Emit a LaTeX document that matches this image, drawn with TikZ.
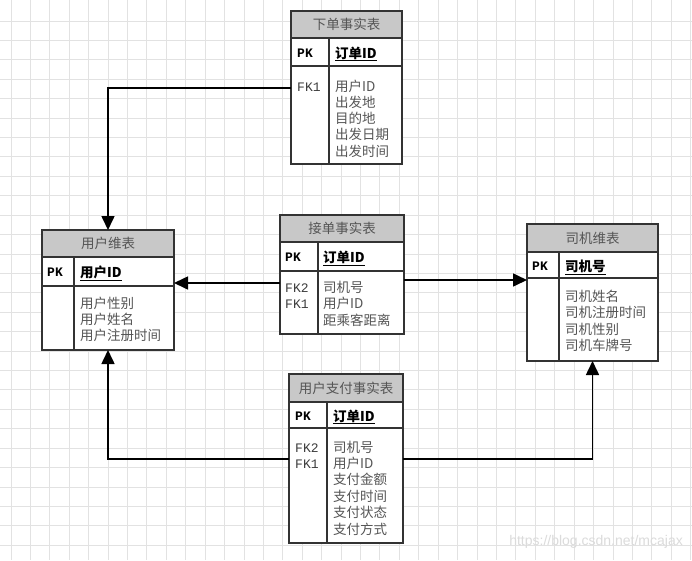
\documentclass[tikz,border=0pt]{standalone}
\usepackage{fontspec}
\newfontfamily\cjk{Noto Sans CJK SC}
\newfontfamily\mono{Liberation Mono}
\newfontfamily\wmfont{Liberation Sans}
\usepackage{tikz}
\usetikzlibrary{calc,positioning,arrows.meta}
\definecolor{headgray}{HTML}{C8C8C8}
\definecolor{linegray}{HTML}{333333}
\definecolor{txtgray}{HTML}{555555}
\definecolor{gridgray}{HTML}{E2E2E2}

\begin{document}
\begin{tikzpicture}[x=1pt,y=-1pt]

\tikzstyle{gridline}=[draw=gridgray,line width=1pt]
\tikzstyle{head}=[draw=linegray,fill=headgray,line width=1.3pt,inner sep=0pt,outer sep=0pt,anchor=north west,text=txtgray,font=\cjk\fontsize{13.5}{16}\selectfont]
\tikzstyle{row}=[draw=linegray,fill=white,line width=1.3pt,inner sep=0pt,outer sep=0pt,anchor=north west]
\tikzstyle{tblline}=[draw=linegray,line width=1.3pt]
\tikzstyle{keytxt}=[inner sep=0pt,anchor=base west,font=\mono\bfseries\fontsize{13}{16}\selectfont]
\tikzstyle{pktxt}=[inner sep=0pt,anchor=base west,font=\cjk\bfseries\fontsize{13.5}{16}\selectfont]
\tikzstyle{fktxt}=[inner sep=0pt,anchor=base west,text=txtgray!70!black,font=\mono\fontsize{13}{16}\selectfont]
\tikzstyle{attr}=[inner sep=0pt,anchor=base west,text=txtgray,font=\cjk\fontsize{13.5}{16}\selectfont]
\tikzstyle{fk}=[line width=1.6pt,-{Triangle[width=13pt,length=14pt]}]

    %background and grid
    \fill[white] (0,0) rectangle (692,560);
    \useasboundingbox (0,0) rectangle (692,560);
    \foreach \gx in {0,...,35} \draw[gridline] ({11+19.42*\gx},0) -- ({11+19.42*\gx},560);
    \foreach \gy in {0,...,27} \draw[gridline] (0,{21+19.42*\gy}) -- (692,{21+19.42*\gy});

    %order fact table
    \node (order_head) [head,minimum width=111,minimum height=27] at (291,11) {下单事实表};
    \node (order_pk) [row,minimum width=111,minimum height=28] at (order_head.south west) {};
    \node (order_body) [row,minimum width=111,minimum height=98] at (order_pk.south west) {};
    \draw [tblline] ($(order_pk.north west)+(38,0)$) -- ($(order_body.south west)+(38,0)$);
    \node (order_pk_k) [keytxt] at ($(order_pk.west)+(6,5)$) {PK};
    \node (order_pk_n) [pktxt] at ($(order_pk.west)+(44,6)$) {\underline{订单ID}};
    \node (order_fk) [fktxt] at ($(order_body.north west)+(6,25)$) {FK1};
    \foreach \t [count=\i] in {用户ID,出发地,目的地,出发日期,出发时间}
      \node (order_a\i) [attr] at ($(order_body.north west)+(44,{25+16.3*(\i-1)})$) {\t};

    %user dimension table
    \node (user_head) [head,minimum width=132,minimum height=27] at (42,230) {用户维表};
    \node (user_pk) [row,minimum width=132,minimum height=29] at (user_head.south west) {};
    \node (user_body) [row,minimum width=132,minimum height=64] at (user_pk.south west) {};
    \draw [tblline] ($(user_pk.north west)+(32,0)$) -- ($(user_body.south west)+(32,0)$);
    \node (user_pk_k) [keytxt] at ($(user_pk.west)+(5,5)$) {PK};
    \node (user_pk_n) [pktxt] at ($(user_pk.west)+(38,6)$) {\underline{用户ID}};
    \foreach \t [count=\i] in {用户性别,用户姓名,用户注册时间}
      \node (user_a\i) [attr] at ($(user_body.north west)+(38,{22+16*(\i-1)})$) {\t};

    %accept fact table
    \node (accept_head) [head,minimum width=124,minimum height=27] at (280,215) {接单事实表};
    \node (accept_pk) [row,minimum width=124,minimum height=29] at (accept_head.south west) {};
    \node (accept_body) [row,minimum width=124,minimum height=63] at (accept_pk.south west) {};
    \draw [tblline] ($(accept_pk.north west)+(38,0)$) -- ($(accept_body.south west)+(38,0)$);
    \node (accept_pk_k) [keytxt] at ($(accept_pk.west)+(5,5)$) {PK};
    \node (accept_pk_n) [pktxt] at ($(accept_pk.west)+(43,6)$) {\underline{订单ID}};
    \foreach \t [count=\i] in {FK2,FK1}
      \node (accept_fk\i) [fktxt] at ($(accept_body.north west)+(5,{21+16.5*(\i-1)})$) {\t};
    \foreach \t [count=\i] in {司机号,用户ID,距乘客距离}
      \node (accept_a\i) [attr] at ($(accept_body.north west)+(43,{21+16.5*(\i-1)})$) {\t};

    %driver dimension table
    \node (driver_head) [head,minimum width=131,minimum height=28] at (527,224) {司机维表};
    \node (driver_pk) [row,minimum width=131,minimum height=26] at (driver_head.south west) {};
    \node (driver_body) [row,minimum width=131,minimum height=83] at (driver_pk.south west) {};
    \draw [tblline] ($(driver_pk.north west)+(32,0)$) -- ($(driver_body.south west)+(32,0)$);
    \node (driver_pk_k) [keytxt] at ($(driver_pk.west)+(5,5)$) {PK};
    \node (driver_pk_n) [pktxt] at ($(driver_pk.west)+(38,6)$) {\underline{司机号}};
    \foreach \t [count=\i] in {司机姓名,司机注册时间,司机性别,司机车牌号}
      \node (driver_a\i) [attr] at ($(driver_body.north west)+(38,{23+16.6*(\i-1)})$) {\t};

    %payment fact table
    \node (pay_head) [head,minimum width=114,minimum height=28] at (289,374) {用户支付事实表};
    \node (pay_pk) [row,minimum width=114,minimum height=26] at (pay_head.south west) {};
    \node (pay_body) [row,minimum width=114,minimum height=115] at (pay_pk.south west) {};
    \draw [tblline] ($(pay_pk.north west)+(38,0)$) -- ($(pay_body.south west)+(38,0)$);
    \node (pay_pk_k) [keytxt] at ($(pay_pk.west)+(6,5)$) {PK};
    \node (pay_pk_n) [pktxt] at ($(pay_pk.west)+(44,6)$) {\underline{订单ID}};
    \foreach \t [count=\i] in {FK2,FK1}
      \node (pay_fk\i) [fktxt] at ($(pay_body.north west)+(6,{24+16.5*(\i-1)})$) {\t};
    \foreach \t [count=\i] in {司机号,用户ID,支付金额,支付时间,支付状态,支付方式}
      \node (pay_a\i) [attr] at ($(pay_body.north west)+(44,{24+16.4*(\i-1)})$) {\t};

    %foreign key connectors
    \draw [fk] ($(order_body.north west)+(0,22)$) coordinate (order_l) -| (user_head.north);
    \draw [fk] ($(accept_body.north west)+(0,12)$) coordinate (accept_l) -- (accept_l -| user_body.east);
    \draw [fk] ($(accept_body.north east)+(0,9)$) coordinate (accept_r) -- (accept_r -| driver_body.west);
    \draw [fk] ($(pay_body.north west)+(0,31)$) coordinate (pay_l) -| (user_body.south);
    \draw [fk] ($(pay_body.north east)+(0,31)$) coordinate (pay_r) -| (driver_body.south);

    %watermark
    \node (mark) [anchor=east,inner sep=0pt,text=gray!28,font=\wmfont\fontsize{14}{16}\selectfont] at (683,542) {https://blog.csdn.net/mcajax};
\end{tikzpicture}
\end{document}
